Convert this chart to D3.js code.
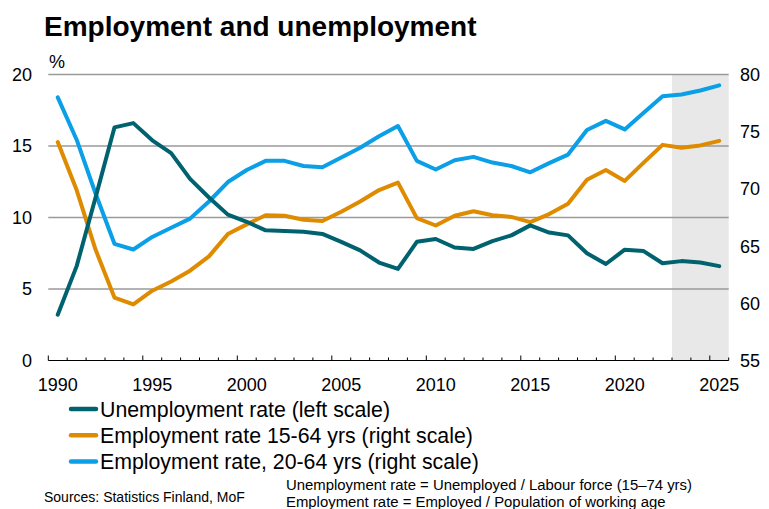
<!DOCTYPE html>
<html>
<head>
<meta charset="utf-8">
<script src="https://cdn.jsdelivr.net/npm/d3@7"></script>
<style>
  html, body { margin: 0; padding: 0; background: #fff; }
  svg { display: block; font-family: "Liberation Sans", Arial, sans-serif; }
</style>
</head>
<body>
<svg id="chart" width="769" height="509"></svg>
<script>
// Years on the horizontal axis
const years = d3.range(1990, 2026);

// Unemployment rate, %, left scale
const unemployment = [
  3.2, 6.6, 11.4, 16.3, 16.6, 15.4, 14.5, 12.7, 11.4, 10.2,
  9.7, 9.1, 9.05, 9.0, 8.85, 8.3, 7.7, 6.85, 6.4, 8.3,
  8.5, 7.9, 7.8, 8.35, 8.75, 9.45, 8.95, 8.75, 7.5, 6.75,
  7.75, 7.65, 6.8, 6.95, 6.85, 6.6
];

// Employment rate 15-64 yrs, %, right scale
const employment1564 = [
  74.1, 69.9, 64.7, 60.5, 59.9, 61.1, 61.9, 62.85, 64.1, 66.05,
  66.9, 67.7, 67.65, 67.3, 67.2, 68.0, 68.9, 69.9, 70.55, 67.45,
  66.8, 67.65, 68.05, 67.7, 67.55, 67.1, 67.8, 68.7, 70.8, 71.65,
  70.7, 72.3, 73.85, 73.6, 73.8, 74.2
];

// Employment rate 20-64 yrs, %, right scale
const employment2064 = [
  78.0, 74.3, 69.6, 65.2, 64.7, 65.8, 66.6, 67.4, 68.9, 70.6,
  71.65, 72.45, 72.45, 72.0, 71.9, 72.75, 73.6, 74.6, 75.5, 72.45,
  71.7, 72.5, 72.8, 72.3, 72.0, 71.45, 72.25, 73.0, 75.15, 75.95,
  75.2, 76.65, 78.1, 78.25, 78.6, 79.05
];

// Forecast years shown on a grey background
const forecastYears = [2023, 2024, 2025];

// Axis tick values
const leftTicks = [0, 5, 10, 15, 20];
const rightTicks = [55, 60, 65, 70, 75, 80];
const yearLabels = [1990, 1995, 2000, 2005, 2010, 2015, 2020, 2025];

const seriesNames = [
  "Unemployment rate (left scale)",
  "Employment rate 15-64 yrs (right scale)",
  "Employment rate, 20-64 yrs (right scale)"
];
const seriesColors = ["#00626f", "#df8b00", "#0a9fe6"];

const svg = d3.select("#chart");

const plot = { left: 48.3, right: 728.7, top: 74.5, bottom: 360.5 };

const x = d3.scaleBand().domain(years).range([plot.left, plot.right]).padding(0);
const xc = yr => x(yr) + x.bandwidth() / 2;
const yL = d3.scaleLinear().domain([0, 20]).range([plot.bottom, plot.top]);
const yR = d3.scaleLinear().domain([55, 80]).range([plot.bottom, plot.top]);

// Title
svg.append("text")
  .attr("x", 44).attr("y", 36)
  .attr("font-size", 28).attr("font-weight", "bold").attr("fill", "#000")
  .text("Employment and unemployment");

// Unit label
svg.append("text")
  .attr("x", 49).attr("y", 68)
  .attr("font-size", 18).attr("fill", "#000")
  .text("%");

// Forecast shading
const f0 = d3.min(forecastYears), f1 = d3.max(forecastYears);
svg.append("rect")
  .attr("x", x(f0)).attr("y", plot.top)
  .attr("width", x(f1) + x.bandwidth() - x(f0))
  .attr("height", plot.bottom - plot.top)
  .attr("fill", "#e8e8e8");

// Horizontal gridlines
svg.append("g")
  .selectAll("line")
  .data(leftTicks.filter(d => d > 0))
  .join("line")
  .attr("x1", plot.left).attr("x2", plot.right)
  .attr("y1", d => yL(d)).attr("y2", d => yL(d))
  .attr("stroke", "#9a9a9a").attr("stroke-width", 1.3);

// Left axis labels
svg.append("g")
  .selectAll("text")
  .data(leftTicks)
  .join("text")
  .attr("x", 32).attr("y", d => yL(d))
  .attr("dy", "0.36em")
  .attr("text-anchor", "end")
  .attr("font-size", 18).attr("fill", "#000")
  .text(d => d);

// Right axis labels
svg.append("g")
  .selectAll("text")
  .data(rightTicks)
  .join("text")
  .attr("x", 740).attr("y", d => yR(d))
  .attr("dy", "0.36em")
  .attr("text-anchor", "start")
  .attr("font-size", 18).attr("fill", "#000")
  .text(d => d);

// Bottom axis: baseline with tick marks between categories
const boundaries = d3.range(0, years.length + 1);
svg.append("line")
  .attr("x1", plot.left).attr("x2", plot.right)
  .attr("y1", plot.bottom).attr("y2", plot.bottom)
  .attr("stroke", "#000").attr("stroke-width", 1);
svg.append("g")
  .selectAll("line")
  .data(boundaries)
  .join("line")
  .attr("x1", i => plot.left + i * x.bandwidth())
  .attr("x2", i => plot.left + i * x.bandwidth())
  .attr("y1", plot.bottom)
  .attr("y2", i => plot.bottom - (i % 5 === 0 ? 5 : 3))
  .attr("stroke", "#000").attr("stroke-width", 1);

// Year labels
svg.append("g")
  .selectAll("text")
  .data(yearLabels)
  .join("text")
  .attr("x", d => xc(d)).attr("y", 391)
  .attr("text-anchor", "middle")
  .attr("font-size", 18).attr("fill", "#000")
  .text(d => d);

// Series lines
const series = [
  { values: unemployment, scale: yL },
  { values: employment1564, scale: yR },
  { values: employment2064, scale: yR }
];
const lineGroup = svg.append("g");
series.slice().reverse().forEach((s, ri) => {
  const i = series.length - 1 - ri;
  const line = d3.line()
    .x((d, k) => xc(years[k]))
    .y(d => s.scale(d));
  lineGroup.append("path")
    .datum(s.values)
    .attr("d", line)
    .attr("fill", "none")
    .attr("stroke", seriesColors[i])
    .attr("stroke-width", 4)
    .attr("stroke-linejoin", "round")
    .attr("stroke-linecap", "round");
});

// Legend
const legend = svg.append("g");
seriesNames.forEach((name, i) => {
  const ly = 409 + i * 26.3;
  legend.append("line")
    .attr("x1", 71).attr("x2", 96)
    .attr("y1", ly).attr("y2", ly)
    .attr("stroke", seriesColors[i]).attr("stroke-width", 4.5)
    .attr("stroke-linecap", "round");
  legend.append("text")
    .attr("x", 100).attr("y", ly + 7.5)
    .attr("font-size", 21.3).attr("fill", "#000")
    .text(name);
});

// Sources and definitions
svg.append("text")
  .attr("x", 44).attr("y", 502)
  .attr("font-size", 14).attr("fill", "#000")
  .text("Sources: Statistics Finland, MoF");
svg.append("text")
  .attr("x", 286).attr("y", 490)
  .attr("font-size", 14.9).attr("fill", "#000")
  .text("Unemployment rate = Unemployed / Labour force (15\u201374 yrs)");
svg.append("text")
  .attr("x", 286).attr("y", 507)
  .attr("font-size", 14.9).attr("fill", "#000")
  .text("Employment rate = Employed / Population of working age");
</script>
</body>
</html>
